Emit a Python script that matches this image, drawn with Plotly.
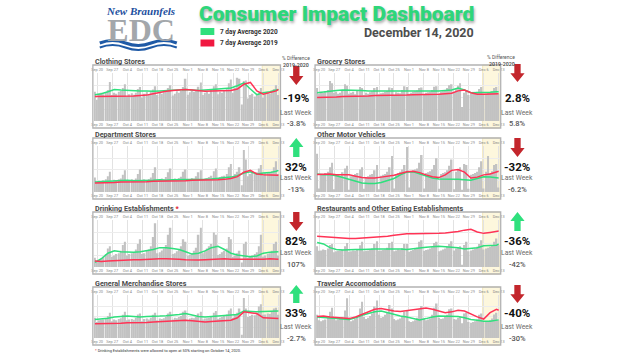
import plotly.graph_objects as go
import pandas as pd

# ---------------- data ----------------
days = pd.date_range("2020-09-19", "2020-12-13", freq="D")
line_days = list(pd.date_range("2020-09-19", "2020-12-12", freq="3D")) + [pd.Timestamp("2020-12-13")]
tick_dates = [d.strftime("%Y-%m-%d") for d in pd.date_range("2020-09-20", "2020-12-13", freq="7D")]
tick_labels = ["Sep 20", "Sep 27", "Oct 4", "Oct 11", "Oct 18", "Oct 25", "Nov 1",
               "Nov 8", "Nov 15", "Nov 22", "Nov 29", "Dec 6", "Dec 13"]

panel_names = ["Clothing Stores", "Department Stores",
               "Drinking Establishments<span style='color:#e0202a'> *</span>",
               "General Merchandise Stores", "Grocery Stores", "Other Motor Vehicles",
               "Restaurants and Other Eating Establishments", "Traveler Accomodations"]
pct_change = ["-19%", "32%", "82%", "33%", "2.8%", "-32%", "-36%", "-40%"]
last_week = ["-3.8%", "-13%", "107%", "-2.7%", "5.8%", "-6.2%", "-42%", "-30%"]
arrow_up = [False, True, False, True, False, False, True, False]

clothing_bars = [62, 45, 58, 60, 57, 61, 66, 83, 55, 60, 58, 62, 64, 70, 78, 52, 57, 59, 56, 60, 68,
                 72, 50, 58, 62, 57, 63, 67, 74, 55, 60, 58, 61, 62, 70, 76, 54, 58, 63, 60, 64, 72,
                 90, 56, 61, 64, 62, 65, 73, 82, 55, 60, 62, 58, 66, 74, 78, 57, 62, 60, 64, 68, 80,
                 88, 60, 70, 92, 90, 35, 85, 86, 48, 55, 58, 52, 56, 60, 70, 50, 57, 60, 58, 62, 68,
                 76, 55]
clothing_2020 = [56, 58, 62, 67, 66, 65, 64, 64, 64, 63, 64, 65, 65, 66, 67, 66, 65, 66, 67, 68,
                 68, 70, 75, 81, 68, 56, 60, 62, 66, 67]
clothing_2019 = [52, 52, 52, 52, 52, 53, 53, 54, 55, 58, 61, 63, 65, 66, 67, 66, 64, 63, 64, 64,
                 65, 65, 68, 78, 82, 64, 57, 60, 64, 67]

department_bars = [32, 22, 25, 24, 26, 28, 35, 45, 24, 27, 26, 28, 30, 38, 48, 25, 26, 28, 27, 30, 40,
                   50, 26, 28, 27, 29, 32, 42, 55, 27, 29, 30, 28, 33, 44, 52, 28, 30, 29, 31, 34, 45,
                   50, 27, 29, 31, 30, 35, 44, 48, 28, 30, 31, 33, 36, 46, 52, 30, 33, 35, 36, 40, 55,
                   62, 34, 40, 45, 55, 15, 93, 72, 35, 40, 42, 40, 44, 52, 60, 36, 42, 44, 43, 46, 55,
                   68, 40]
department_2020 = [22, 23, 24, 25, 25, 26, 25, 25, 26, 26, 27, 26, 27, 27, 28, 27, 28, 28, 29, 30,
                   31, 33, 36, 42, 45, 40, 42, 43, 46, 48]
department_2019 = [20, 20, 21, 21, 22, 22, 22, 23, 23, 24, 24, 24, 25, 25, 25, 26, 26, 26, 27, 27,
                   28, 30, 34, 44, 48, 40, 38, 37, 36, 37]

drinking_bars = [20, 12, 15, 18, 22, 28, 40, 45, 22, 25, 28, 30, 35, 48, 55, 25, 28, 30, 32, 38, 50,
                 60, 28, 30, 35, 38, 45, 65, 95, 30, 32, 36, 40, 48, 70, 85, 28, 30, 34, 38, 45, 60,
                 55, 25, 27, 30, 35, 42, 70, 85, 30, 35, 40, 45, 50, 75, 70, 26, 28, 32, 35, 40, 65,
                 60, 22, 25, 30, 35, 10, 50, 55, 20, 22, 25, 28, 32, 45, 70, 22, 25, 28, 30, 35, 50,
                 55, 25]
drinking_2020 = [10, 18, 30, 35, 33, 32, 32, 33, 35, 38, 42, 42, 40, 38, 33, 28, 30, 35, 42, 45,
                 38, 30, 26, 24, 22, 24, 30, 32, 33, 33]
drinking_2019 = [13, 12, 13, 14, 15, 15, 16, 16, 17, 17, 18, 18, 18, 17, 16, 15, 15, 16, 17, 17,
                 18, 17, 17, 16, 17, 17, 17, 18, 17, 17]

general_bars = [48, 38, 42, 43, 44, 46, 52, 60, 40, 44, 42, 45, 47, 55, 62, 42, 44, 45, 43, 48, 56,
                58, 40, 45, 46, 44, 48, 55, 60, 42, 46, 45, 47, 50, 58, 62, 44, 48, 47, 50, 52, 62,
                65, 42, 46, 48, 47, 50, 58, 62, 44, 46, 47, 48, 52, 60, 64, 45, 48, 50, 52, 56, 65,
                70, 48, 55, 60, 70, 8, 95, 70, 50, 52, 55, 54, 58, 75, 80, 55, 56, 58, 57, 62, 70,
                72, 55]
general_2020 = [44, 45, 47, 50, 51, 52, 51, 50, 51, 51, 52, 53, 54, 56, 58, 55, 51, 50, 51, 52,
                53, 54, 56, 64, 63, 62, 63, 63, 64, 64]
general_2019 = [34, 34, 34, 35, 35, 36, 36, 36, 37, 38, 39, 40, 41, 42, 42, 41, 39, 38, 39, 40,
                41, 42, 48, 62, 60, 58, 48, 47, 46, 46]

grocery_bars = [70, 58, 62, 60, 63, 66, 85, 80, 60, 62, 58, 60, 65, 78, 75, 58, 60, 62, 57, 64, 72,
                70, 55, 60, 58, 61, 63, 70, 72, 57, 59, 60, 62, 64, 71, 70, 56, 61, 60, 59, 66, 74,
                72, 58, 60, 62, 63, 65, 70, 71, 57, 60, 61, 62, 66, 73, 74, 58, 62, 63, 64, 70, 76,
                78, 62, 68, 75, 80, 30, 60, 66, 55, 58, 59, 60, 62, 68, 72, 56, 58, 60, 61, 63, 70,
                72, 57]
grocery_2020 = [60, 62, 64, 65, 66, 66, 65, 65, 64, 64, 64, 63, 64, 64, 64, 63, 63, 64, 64, 64,
                65, 66, 70, 66, 60, 60, 61, 61, 62, 62]
grocery_2019 = [50, 50, 51, 51, 52, 52, 52, 53, 53, 54, 54, 54, 55, 55, 55, 56, 56, 56, 57, 57,
                58, 59, 64, 66, 60, 57, 57, 58, 58, 58]

motor_bars = [85, 8, 40, 38, 42, 45, 55, 65, 6, 38, 40, 36, 44, 52, 58, 5, 35, 37, 40, 42, 50,
              55, 7, 33, 35, 38, 40, 48, 60, 6, 36, 38, 40, 45, 55, 80, 8, 40, 42, 45, 50, 60,
              100, 10, 45, 48, 50, 52, 65, 82, 8, 42, 44, 46, 50, 60, 75, 7, 40, 42, 44, 48, 58,
              72, 6, 45, 50, 55, 5, 62, 60, 7, 38, 40, 42, 45, 55, 68, 8, 45, 80, 42, 46, 60,
              62, 10]
motor_2020 = [40, 38, 38, 36, 32, 28, 24, 20, 19, 19, 21, 25, 30, 38, 44, 45, 40, 35, 31, 29,
              29, 28, 28, 27, 26, 30, 34, 33, 31, 31]
motor_2019 = [39, 40, 40, 38, 38, 38, 35, 32, 31, 31, 33, 35, 37, 41, 45, 46, 43, 38, 34, 32,
              38, 48, 50, 44, 31, 33, 38, 40, 45, 46]

restaurant_bars = [45, 35, 36, 38, 37, 40, 48, 50, 32, 34, 35, 36, 38, 45, 52, 33, 34, 36, 35, 38, 47,
                   55, 34, 35, 36, 38, 40, 50, 56, 35, 36, 37, 38, 42, 52, 55, 34, 36, 38, 37, 41, 50,
                   50, 33, 35, 37, 39, 42, 55, 58, 35, 37, 38, 40, 43, 52, 55, 34, 36, 38, 40, 45, 50,
                   56, 36, 40, 42, 45, 5, 48, 55, 34, 36, 38, 40, 44, 50, 58, 38, 40, 42, 44, 48, 55,
                   62, 48]
restaurant_2020 = [53, 50, 42, 38, 37, 38, 38, 38, 39, 39, 39, 39, 40, 39, 38, 40, 41, 43, 44, 45,
                   44, 43, 42, 39, 40, 42, 46, 46, 47, 50]
restaurant_2019 = [67, 66, 64, 63, 62, 62, 62, 63, 64, 65, 65, 67, 69, 71, 72, 72, 72, 73, 73, 73,
                   74, 75, 77, 80, 82, 76, 73, 75, 77, 78]

traveler_bars = [55, 42, 40, 42, 44, 48, 62, 72, 45, 42, 44, 46, 50, 65, 94, 48, 40, 42, 45, 52, 70,
                 86, 50, 45, 48, 52, 58, 75, 89, 55, 48, 50, 55, 60, 78, 70, 45, 42, 44, 46, 52, 62,
                 65, 40, 38, 40, 42, 48, 68, 76, 45, 42, 44, 46, 55, 72, 82, 48, 45, 46, 50, 55, 68,
                 70, 45, 44, 48, 50, 35, 58, 60, 38, 36, 38, 40, 44, 55, 58, 40, 38, 40, 42, 46, 56,
                 60, 42]
traveler_2020 = [50, 49, 47, 46, 45, 44, 48, 54, 58, 62, 64, 60, 55, 52, 50, 46, 43, 46, 50, 52,
                 52, 52, 51, 48, 44, 42, 40, 40, 42, 43]
traveler_2019 = [51, 52, 50, 49, 47, 46, 50, 56, 62, 68, 70, 67, 64, 63, 65, 68, 70, 71, 68, 64,
                 60, 62, 66, 64, 56, 50, 45, 60, 68, 66]

panel_bars = [clothing_bars, department_bars, drinking_bars, general_bars,
              grocery_bars, motor_bars, restaurant_bars, traveler_bars]
panel_2020 = [clothing_2020, department_2020, drinking_2020, general_2020,
              grocery_2020, motor_2020, restaurant_2020, traveler_2020]
panel_2019 = [clothing_2019, department_2019, drinking_2019, general_2019,
              grocery_2019, motor_2019, restaurant_2019, traveler_2019]

# ---------------- layout helpers ----------------
W, H = 640, 360
def PX(x):
    return x / W
def PY(y):
    return 1 - y / H

GREEN = "#2fe07d"
RED = "#ff3355"
BAR = "#c2c2c2"

cols = [(91, 281), (316, 504)]
rows = [(65, 128), (138, 199), (212, 274), (287, 345)]
text_x = [297, 521]
# arrow top/bottom, pct y, "Last Week" y, value y
row_text = [(66, 85, 98, 113, 123), (138, 157, 167, 178, 189),
            (212, 231, 241, 253, 264), (285, 303, 313, 327, 338)]

fig = go.Figure()
layout = {}
shapes = []
annotations = []

x_range = ["2020-09-18 12:00", "2020-12-13 12:00"]

for i in range(8):
    c = i // 4
    r = i % 4
    bx0, bx1 = cols[c]
    by0, by1 = rows[r]
    px0, px1 = bx0 + 1, bx1 - 1
    py0, py1 = by0 + 8, by1 - 7
    xa = "x" if i == 0 else f"x{i+1}"
    ya = "y" if i == 0 else f"y{i+1}"
    xt = f"x{i+9}"
    fig.add_trace(go.Bar(x=days, y=panel_bars[i], marker_color=BAR, marker_line_width=0,
                         xaxis=xa, yaxis=ya, showlegend=False, hoverinfo="skip"))
    fig.add_trace(go.Scatter(x=line_days, y=panel_2020[i], mode="lines",
                             line=dict(color=GREEN, width=1.5), xaxis=xa, yaxis=ya,
                             showlegend=False))
    fig.add_trace(go.Scatter(x=line_days, y=panel_2019[i], mode="lines",
                             line=dict(color=RED, width=1.5), xaxis=xa, yaxis=ya,
                             showlegend=False))
    fig.add_trace(go.Scatter(x=[days[0]], y=[0], mode="markers", marker=dict(opacity=0),
                             xaxis=xt, yaxis=ya, showlegend=False, hoverinfo="skip"))
    tickfont = dict(size=3.9, color="#888888", family="Roboto")
    xkey = "xaxis" if i == 0 else f"xaxis{i+1}"
    ykey = "yaxis" if i == 0 else f"yaxis{i+1}"
    layout[xkey] = dict(domain=[PX(px0), PX(px1)], anchor=ya, type="date", range=x_range,
                        tickmode="array", tickvals=tick_dates, ticktext=tick_labels,
                        tickfont=tickfont, showticklabels=True, ticks="", tickangle=0,
                        showgrid=True, gridcolor="#e2e2e2", gridwidth=0.6,
                        showline=False, zeroline=False, fixedrange=True)
    layout[f"xaxis{i+9}"] = dict(domain=[PX(px0), PX(px1)], anchor=ya, overlaying=xa,
                                 side="top", type="date", range=x_range,
                                 tickmode="array", tickvals=tick_dates, ticktext=tick_labels,
                                 tickfont=tickfont, showticklabels=True, ticks="", tickangle=0,
                                 showgrid=False, showline=False, zeroline=False,
                                 fixedrange=True)
    layout[ykey] = dict(domain=[PY(py1), PY(py0)], anchor=xa, range=[0, 102],
                        showticklabels=False, ticks="", showgrid=True, gridcolor="#ececec",
                        gridwidth=0.6, dtick=25, zeroline=False, showline=False,
                        fixedrange=True)
    # last-week highlight
    shapes.append(dict(type="rect", xref=xa, yref="paper", x0="2020-12-05 12:00",
                       x1="2020-12-13 12:00", y0=PY(by1), y1=PY(by0),
                       fillcolor="#fdf7dd", line=dict(color="#efe2b0", width=0.8),
                       layer="below"))
    # panel box
    shapes.append(dict(type="rect", xref="paper", yref="paper", x0=PX(bx0), x1=PX(bx1),
                       y0=PY(by1), y1=PY(by0), line=dict(color="#b3b3b3", width=1.3),
                       fillcolor="rgba(0,0,0,0)", layer="above"))
    # panel title
    annotations.append(dict(text=panel_names[i], x=PX(bx0), y=PY(by0 - 3.5), xref="paper",
                            yref="paper", xanchor="left", yanchor="middle", showarrow=False,
                            font=dict(size=7.2, color="#4a4a4a", family="Roboto", weight=700)))
    # side text
    tx = text_x[c]
    a_top, a_bot, y_pct, y_lw, y_val = row_text[r]
    if c == 1 and r == 0:
        a_top, a_bot = 64, 82
    up = arrow_up[i]
    col = GREEN if up else "#c3262c"
    sw, hw = 3.2, 7.2
    h = a_bot - a_top
    if up:
        mid = a_top + 0.48 * h
        pts = [(tx, a_top), (tx + hw, mid), (tx + sw, mid), (tx + sw, a_bot),
               (tx - sw, a_bot), (tx - sw, mid), (tx - hw, mid)]
    else:
        mid = a_top + 0.52 * h
        pts = [(tx - sw, a_top), (tx + sw, a_top), (tx + sw, mid), (tx + hw, mid),
               (tx, a_bot), (tx - hw, mid), (tx - sw, mid)]
    path = "M " + " L ".join(f"{PX(px):.5f},{PY(py):.5f}" for px, py in pts) + " Z"
    shapes.append(dict(type="path", xref="paper", yref="paper", path=path,
                       fillcolor=col, line=dict(width=0)))
    annotations.append(dict(text=pct_change[i], x=PX(tx), y=PY(y_pct), xref="paper",
                            yref="paper", showarrow=False, xanchor="center", yanchor="middle",
                            font=dict(size=11.5, color="#111111", family="Roboto", weight=700)))
    annotations.append(dict(text="Last Week", x=PX(tx), y=PY(y_lw), xref="paper",
                            yref="paper", showarrow=False, xanchor="center", yanchor="middle",
                            font=dict(size=6.8, color="#6a6a6a", family="Roboto")))
    annotations.append(dict(text=last_week[i], x=PX(tx), y=PY(y_val), xref="paper",
                            yref="paper", showarrow=False, xanchor="center", yanchor="middle",
                            font=dict(size=7.5, color="#555555", family="Roboto", weight=500)))

# column headers
for tx, yy in [(297, 53), (521, 52)]:
    annotations.append(dict(text="% Difference", x=PX(tx), y=PY(yy), xref="paper", yref="paper",
                            showarrow=False, font=dict(size=5, color="#555555", family="Roboto")))
    annotations.append(dict(text="2019-2020", x=PX(tx), y=PY(yy + 7), xref="paper", yref="paper",
                            showarrow=False, font=dict(size=5.3, color="#444444", family="Roboto",
                                                       weight=500)))

# header
annotations.append(dict(text="Consumer Impact Dashboard", x=PX(338), y=PY(14), xref="paper",
                        yref="paper", showarrow=False, xanchor="center", yanchor="middle",
                        font=dict(size=21, color="#2ed67a", family="Roboto", weight=900,
                                  shadow="1px 2px 3px rgba(0,0,0,0.35)")))
annotations.append(dict(text="December 14, 2020", x=PX(479), y=PY(32), xref="paper",
                        yref="paper", showarrow=False, xanchor="right", yanchor="middle",
                        font=dict(size=12.5, color="#4d4d4d", family="Roboto", weight=700)))
for yy, colr, lab in [(31.5, GREEN, "7 day Average 2020"), (43, "#f01840", "7 day Average 2019")]:
    shapes.append(dict(type="rect", xref="paper", yref="paper", x0=PX(200), x1=PX(214),
                       y0=PY(yy + 3.5), y1=PY(yy - 3.5), fillcolor=colr, line=dict(width=0)))
    annotations.append(dict(text=lab, x=PX(218), y=PY(yy), xref="paper", yref="paper",
                            showarrow=False, xanchor="left", yanchor="middle",
                            font=dict(size=6.5, color="#333333", family="Roboto", weight=700)))

# logo (one text block: "New Braunfels" over "EDC")
logo_text = ("<span style='font-size:11px;font-style:italic;color:#1d4f9e'>New Braunfels</span>"
             "<br><span style='font-size:32px;color:#a3a7ab'>EDC</span>")
annotations.append(dict(text=logo_text, x=PX(139), y=PY(3), xref="paper", yref="paper",
                        showarrow=False, xanchor="center", yanchor="top",
                        font=dict(size=20, color="#a3a7ab", family="Liberation Serif", weight=700)))
for off, wdt in [(0, 3.0), (4.5, 2.2)]:
    path = (f"M {PX(98):.5f},{PY(43 + off):.5f} "
            f"Q {PX(111):.5f},{PY(38 + off):.5f} {PX(124):.5f},{PY(43 + off):.5f} "
            f"T {PX(150):.5f},{PY(43 + off):.5f} T {PX(176):.5f},{PY(43 + off):.5f}")
    shapes.append(dict(type="path", xref="paper", yref="paper", path=path,
                       line=dict(color="#1f5aa6", width=wdt)))

# footnote
annotations.append(dict(text="<span style='color:#e0202a'>*</span> Drinking Establishments were allowed to open at 50% starting on October 14, 2020.",
                        x=PX(91), y=PY(350), xref="paper", yref="paper", showarrow=False,
                        xanchor="left", yanchor="middle",
                        font=dict(size=3.9, color="#333333", family="Roboto")))

fig.update_layout(**layout)
fig.update_layout(width=W, height=H, margin=dict(l=0, r=0, t=0, b=0),
                  paper_bgcolor="white", plot_bgcolor="white", bargap=0.3,
                  shapes=shapes, annotations=annotations, showlegend=False)

fig.write_html("out.html", config={"displayModeBar": False},
               post_script="document.body.style.margin='0px';")
